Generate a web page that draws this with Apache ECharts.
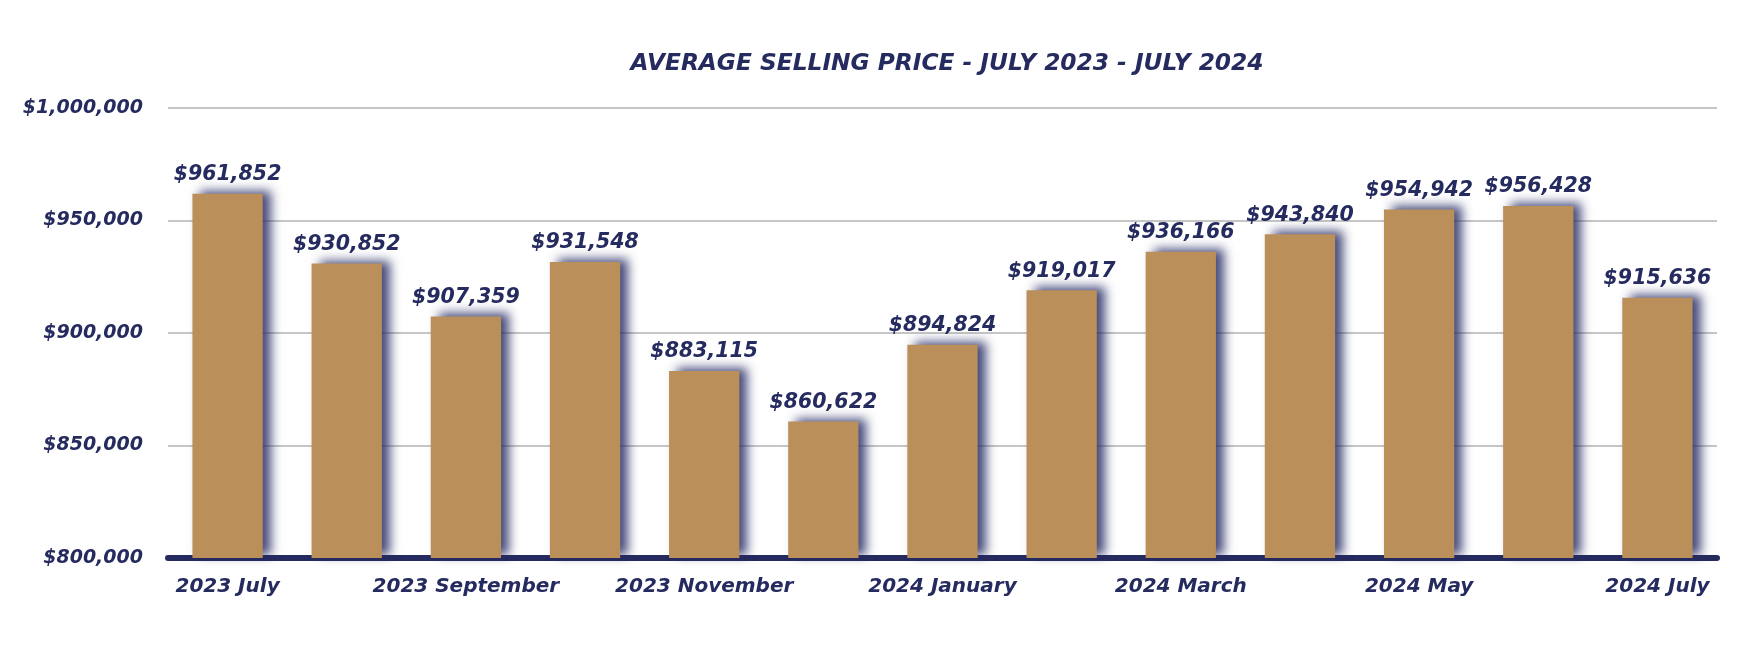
<!DOCTYPE html>
<html><head><meta charset="utf-8">
<script src="https://cdn.jsdelivr.net/npm/echarts@6/dist/echarts.min.js"></script>
<style>html,body{margin:0;padding:0;background:#fff}#c{width:1760px;height:660px}</style>
</head><body><div id="c"></div>
<script>
const categories = ['2023 July','2023 August','2023 September','2023 October','2023 November','2023 December','2024 January','2024 February','2024 March','2024 April','2024 May','2024 June','2024 July'];
const values = [961852, 930852, 907359, 931548, 883115, 860622, 894824, 919017, 936166, 943840, 954942, 956428, 915636];
const yTicks = [800000, 850000, 900000, 950000, 1000000];
const titleText = 'AVERAGE SELLING PRICE - JULY 2023 - JULY 2024';

const navy = '#262b5f';
const font = '"DejaVu Sans"';
const fmt = v => '$' + Number(v).toLocaleString('en-US');

const chart = echarts.init(document.getElementById('c'), null, {renderer: 'canvas'});
chart.setOption({
  animation: false,
  backgroundColor: '#ffffff',
  title: {
    text: titleText,
    left: 942, top: 47, textAlign: 'center',
    textStyle: {color: navy, fontFamily: font, fontStyle: 'italic', fontWeight: 'bold', fontSize: 23.3}
  },
  grid: {left: 168, right: 43, top: 108, bottom: 102},
  xAxis: {
    type: 'category', data: categories,
    axisLine: {lineStyle: {color: navy, width: 6}},
    axisTick: {show: false},
    axisLabel: {interval: 1, margin: 19, color: navy, fontFamily: font, fontStyle: 'italic', fontWeight: 'bold', fontSize: 20}
  },
  yAxis: {
    type: 'value', min: yTicks[0], max: yTicks[yTicks.length - 1], interval: 50000,
    axisLine: {show: false}, axisTick: {show: false},
    splitLine: {lineStyle: {color: '#b3b3b3', width: 1.5}},
    axisLabel: {margin: 25, color: navy, fontFamily: font, fontStyle: 'italic', fontWeight: 'bold', fontSize: 19, formatter: fmt}
  },
  series: [{
    type: 'bar', data: values, barCategoryGap: '41%',
    itemStyle: {color: '#bb8f5a', shadowColor: 'rgba(38,43,100,0.85)', shadowBlur: 10, shadowOffsetX: 8, shadowOffsetY: -3},
    label: {show: true, position: 'top', distance: 9, formatter: p => fmt(p.value), color: navy, fontFamily: font, fontStyle: 'italic', fontWeight: 'bold', fontSize: 20.5}
  }]
});
</script></body></html>
